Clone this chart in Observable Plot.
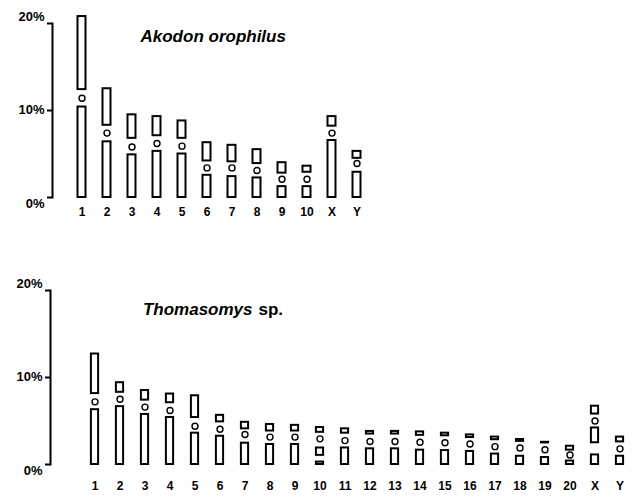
<!DOCTYPE html>
<html>
<head>
<meta charset="utf-8">
<script src="https://cdn.jsdelivr.net/npm/d3@7"></script>
<script src="https://cdn.jsdelivr.net/npm/@observablehq/plot@0.6"></script>
<style>
  body { margin: 0; background: #fff; }
  #chart { width: 641px; height: 499px; font-family: "Liberation Sans", Arial, sans-serif; }
  #chart svg { display: block; }
</style>
</head>
<body>
<div id="chart"></div>
<script>
// ---- shared tick values (percent of haploid genome length) ----
const yTicks = [0, 10, 20];

// ---- Akodon orophilus ----
const akodonTitle = "Akodon orophilus";
const akodonChromosomes = ["1","2","3","4","5","6","7","8","9","10","X","Y"];
const akodonSegChrom = ["1","1","2","2","3","3","4","4","5","5","6","6","7","7","8","8","9","9","10","10","X","X","Y","Y"];
const akodonSegLow  = [0,12.4, 0,8.3, 0,6.8, 0,7.1, 0,6.8, 0,4.2, 0,4.1, 0,3.9, 0,2.8, 0,2.9, 0,8.2, 0,4.5];
const akodonSegHigh = [10.4,20.8, 6.4,12.5, 4.9,9.5, 5.3,9.3, 5.0,8.8, 2.55,6.3, 2.4,6.0, 2.25,5.5, 1.25,4.0, 1.25,3.6, 6.55,9.3, 2.9,5.3];
const akodonCentromere = [11.4, 7.4, 5.8, 6.2, 5.9, 3.4, 3.4, 3.1, 2.1, 2.1, 7.4, 3.9];

// ---- Thomasomys sp. ----
const thomasGenus = "Thomasomys";
const thomasQualifier = "sp.";
const thomasChromosomes = ["1","2","3","4","5","6","7","8","9","10","11","12","13","14","15","16","17","18","19","20","X","Y"];
const thomasSegChrom = ["1","1","2","2","3","3","4","4","5","5","6","6","7","7","8","8","9","9","10","10","10","11","11","12","12","13","13","14","14","15","15","16","16","17","17","18","18","19","19","20","20","X","X","X","Y","Y"];
const thomasSegLow  = [0,8.15, 0,8.3, 0,7.4, 0,7.1, 0,5.4, 0,4.9, 0,4.1, 0,3.85, 0,3.85, 0,1.05,3.7, 0,3.6, 0,3.5, 0,3.5, 0,3.35, 0,3.3, 0,3.1, 0,2.85, 0,2.66, 0,2.48, 0,1.65, 0,2.5,5.8, 0,2.6];
const thomasSegHigh = [6.3,12.7, 6.65,9.4, 5.75,8.5, 5.4,8.1, 3.6,7.9, 3.25,5.65, 2.45,4.85, 2.3,4.6, 2.3,4.5, 0.28,1.9,4.25, 1.9,4.1, 1.8,3.8, 1.8,3.8, 1.65,3.75, 1.6,3.6, 1.5,3.4, 1.2,3.15, 0.95,2.87, 0.8,2.55, 0.4,2.1, 1.1,4.2,6.7, 0.95,3.15];
const thomasCentromere = [7.2, 7.5, 6.6, 6.2, 4.4, 4.05, 3.45, 3.15, 3.15, 2.95, 2.75, 2.65, 2.65, 2.55, 2.5, 2.35, 2.05, 1.9, 1.7, 1.1, 5.0, 1.8];

const FONT = '"Liberation Sans", Arial, sans-serif';
const yLabelNudge = [6, -0.5, -7];

function idiogram(o) {
  const segs = o.segChrom.map((c, i) => ({c, lo: o.segLow[i], hi: o.segHigh[i]}));
  const cen = o.cats.map((c, i) => ({c, y: o.centro[i]}));
  return Plot.plot({
    width: 641,
    height: o.height,
    marginTop: o.marginTop,
    marginBottom: o.marginBottom,
    marginLeft: o.marginLeft,
    marginRight: 0,
    x: {type: "band", domain: o.cats, range: o.xRange, padding: 0, label: null},
    y: {domain: [0, 20], label: null},
    style: {fontFamily: FONT, color: "#000", background: "#fff", overflow: "visible"},
    marks: [
      Plot.frame({anchor: "left", stroke: "#000", strokeWidth: 2}),
      Plot.axisY(yTicks, {tickSize: 5, strokeWidth: 2, tickFormat: () => "", label: null}),
      ...yTicks.map((t, i) => Plot.text([t], {
        y: d => d, text: d => d + "%", frameAnchor: "left", textAnchor: "end",
        dx: -8, dy: yLabelNudge[i], fontWeight: "bold", fontSize: 13, fill: "#000"
      })),
      Plot.axisX({tickSize: 0, tickPadding: o.labelPad, fontWeight: "bold", fontSize: 12, label: null, fill: "#000"}),
      Plot.barY(segs, {x: "c", y1: "lo", y2: "hi", fill: "#fff", stroke: "#000", strokeWidth: 2,
        insetLeft: o.inset, insetRight: o.inset}),
      Plot.dot(cen, {x: "c", y: "y", r: 3, fill: "#fff", stroke: "#000", strokeWidth: 1.4}),
      ...o.titles
    ]
  });
}

const topChart = idiogram({
  cats: akodonChromosomes, segChrom: akodonSegChrom, segLow: akodonSegLow, segHigh: akodonSegHigh,
  centro: akodonCentromere, height: 250, marginTop: 23, marginBottom: 53, marginLeft: 52,
  xRange: [68.8, 369.3], inset: 8.5, labelPad: 10,
  titles: [
    Plot.text([akodonTitle], {text: d => d, frameAnchor: "top-left", dx: 88, dy: 13, textAnchor: "start",
      lineAnchor: "middle", fontWeight: "bold", fontStyle: "italic", fontSize: 17, fill: "#000"})
  ]
});

const bottomChart = idiogram({
  cats: thomasChromosomes, segChrom: thomasSegChrom, segLow: thomasSegLow, segHigh: thomasSegHigh,
  centro: thomasCentromere, height: 249, marginTop: 40, marginBottom: 35, marginLeft: 50,
  xRange: [71.8, 641.9], inset: 8.9, labelPad: 17,
  titles: [
    Plot.text([thomasGenus], {text: d => d, frameAnchor: "top-left", dx: 202, dy: 19, textAnchor: "end",
      lineAnchor: "middle", fontWeight: "bold", fontStyle: "italic", fontSize: 17, fill: "#000"}),
    Plot.text([thomasQualifier], {text: d => d, frameAnchor: "top-left", dx: 208, dy: 19, textAnchor: "start",
      lineAnchor: "middle", fontWeight: "bold", fontSize: 17, fill: "#000"})
  ]
});

document.getElementById("chart").append(topChart, bottomChart);
</script>
</body>
</html>
